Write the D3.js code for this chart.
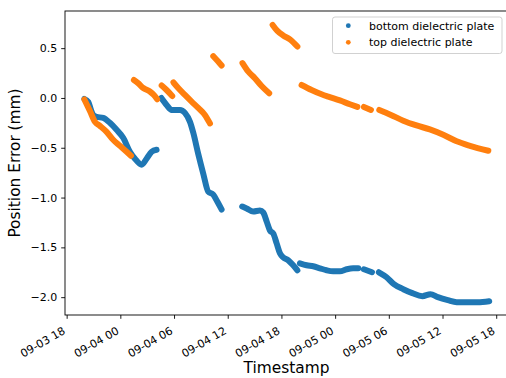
<!DOCTYPE html>
<html>
<head>
<meta charset="utf-8">
<script src="https://cdn.jsdelivr.net/npm/d3@7"></script>
<style>
  body { margin: 0; background: #fff; }
  svg { display: block; font-family: "DejaVu Sans", sans-serif; }
</style>
</head>
<body>
<div id="chart"></div>
<script>
// series, null marks a gap in the recording
var bottomPlate = [
  ["2023-09-03 19:59", -0.01], ["2023-09-03 20:25", -0.04], ["2023-09-03 20:43", -0.12],
  ["2023-09-03 20:58", -0.17], ["2023-09-03 21:21", -0.19], ["2023-09-03 22:05", -0.20],
  ["2023-09-03 22:50", -0.25], ["2023-09-03 23:35", -0.32], ["2023-09-04 00:19", -0.40],
  ["2023-09-04 01:04", -0.54], ["2023-09-04 01:38", -0.61], ["2023-09-04 02:23", -0.67],
  ["2023-09-04 02:56", -0.61], ["2023-09-04 03:30", -0.54], ["2023-09-04 04:03", -0.52],
  ["2023-09-04 04:20", null],
  ["2023-09-04 04:35", 0.00], ["2023-09-04 05:10", -0.07], ["2023-09-04 05:44", -0.12],
  ["2023-09-04 06:40", -0.12], ["2023-09-04 07:13", -0.15], ["2023-09-04 07:47", -0.24],
  ["2023-09-04 08:09", -0.35], ["2023-09-04 08:42", -0.56], ["2023-09-04 09:16", -0.76],
  ["2023-09-04 09:49", -0.94], ["2023-09-04 10:23", -0.97], ["2023-09-04 10:50", -1.04],
  ["2023-09-04 11:19", -1.12],
  ["2023-09-04 12:30", null],
  ["2023-09-04 13:37", -1.09], ["2023-09-04 14:07", -1.11], ["2023-09-04 14:51", -1.14],
  ["2023-09-04 15:36", -1.13], ["2023-09-04 15:58", -1.15], ["2023-09-04 16:21", -1.24],
  ["2023-09-04 16:43", -1.33], ["2023-09-04 17:05", -1.36], ["2023-09-04 17:28", -1.46],
  ["2023-09-04 17:50", -1.56], ["2023-09-04 18:12", -1.60], ["2023-09-04 18:46", -1.63],
  ["2023-09-04 19:19", -1.68], ["2023-09-04 19:47", -1.73],
  ["2023-09-04 19:55", null],
  ["2023-09-04 20:04", -1.66], ["2023-09-04 20:49", -1.68], ["2023-09-04 21:33", -1.69],
  ["2023-09-04 22:18", -1.71], ["2023-09-04 23:03", -1.73], ["2023-09-04 23:47", -1.74],
  ["2023-09-05 00:32", -1.74], ["2023-09-05 01:17", -1.72], ["2023-09-05 02:01", -1.71],
  ["2023-09-05 02:35", -1.71],
  ["2023-09-05 02:55", null],
  ["2023-09-05 03:13", -1.72], ["2023-09-05 04:07", -1.75],
  ["2023-09-05 04:30", null],
  ["2023-09-05 04:53", -1.75], ["2023-09-05 05:45", -1.80], ["2023-09-05 06:34", -1.87],
  ["2023-09-05 07:37", -1.92], ["2023-09-05 08:38", -1.96], ["2023-09-05 09:45", -1.99],
  ["2023-09-05 10:39", -1.97], ["2023-09-05 11:29", -2.00], ["2023-09-05 12:36", -2.03],
  ["2023-09-05 13:35", -2.05], ["2023-09-05 14:50", -2.05], ["2023-09-05 15:57", -2.05],
  ["2023-09-05 17:13", -2.04]
];

var topPlate = [
  ["2023-09-03 19:59", -0.015], ["2023-09-03 20:36", -0.13], ["2023-09-03 21:10", -0.24],
  ["2023-09-03 21:43", -0.28], ["2023-09-03 22:28", -0.34], ["2023-09-03 23:12", -0.42],
  ["2023-09-03 23:57", -0.48], ["2023-09-04 00:42", -0.54], ["2023-09-04 01:11", -0.58],
  ["2023-09-04 01:20", null],
  ["2023-09-04 01:31", 0.18], ["2023-09-04 02:01", 0.146], ["2023-09-04 02:34", 0.10],
  ["2023-09-04 03:18", 0.065], ["2023-09-04 03:45", 0.03], ["2023-09-04 04:07", -0.013],
  ["2023-09-04 04:20", null],
  ["2023-09-04 04:37", 0.125], ["2023-09-04 05:10", 0.08], ["2023-09-04 05:48", 0.02],
  ["2023-09-04 05:52", null],
  ["2023-09-04 05:56", 0.156], ["2023-09-04 06:28", 0.10], ["2023-09-04 07:13", 0.03],
  ["2023-09-04 07:58", -0.037], ["2023-09-04 08:42", -0.10], ["2023-09-04 09:27", -0.17],
  ["2023-09-04 10:01", -0.256],
  ["2023-09-04 10:10", null],
  ["2023-09-04 10:23", 0.42], ["2023-09-04 10:56", 0.366], ["2023-09-04 11:19", 0.326],
  ["2023-09-04 12:30", null],
  ["2023-09-04 13:39", 0.35], ["2023-09-04 14:17", 0.266], ["2023-09-04 15:02", 0.198],
  ["2023-09-04 15:47", 0.12], ["2023-09-04 16:38", 0.047],
  ["2023-09-04 16:50", null],
  ["2023-09-04 17:01", 0.733], ["2023-09-04 17:33", 0.673], ["2023-09-04 18:12", 0.627],
  ["2023-09-04 18:57", 0.589], ["2023-09-04 19:47", 0.517],
  ["2023-09-04 20:00", null],
  ["2023-09-04 20:15", 0.13], ["2023-09-04 21:22", 0.08], ["2023-09-04 22:29", 0.037],
  ["2023-09-04 23:14", 0.013], ["2023-09-05 00:32", -0.025], ["2023-09-05 01:39", -0.063],
  ["2023-09-05 02:29", -0.09],
  ["2023-09-05 02:55", null],
  ["2023-09-05 03:13", -0.09], ["2023-09-05 04:00", -0.12],
  ["2023-09-05 04:30", null],
  ["2023-09-05 04:56", -0.12], ["2023-09-05 06:14", -0.17], ["2023-09-05 07:37", -0.228],
  ["2023-09-05 09:06", -0.276], ["2023-09-05 10:35", -0.316], ["2023-09-05 12:05", -0.37],
  ["2023-09-05 13:35", -0.435], ["2023-09-05 15:04", -0.48], ["2023-09-05 17:07", -0.53]
];

var seriesNames = ["bottom dielectric plate", "top dielectric plate"];
var seriesColors = ["#1f77b4", "#ff7f0e"];
var yTicks = [-2.0, -1.5, -1.0, -0.5, 0.0, 0.5];
var xRange = ["2023-09-03 17:49", "2023-09-05 19:19"];
var yRange = [-2.179, 0.873];

var width = 506, height = 378;
var margin = { top: 11, right: -2, bottom: 63, left: 65 };
var plotW = width - margin.left - margin.right;
var plotH = height - margin.top - margin.bottom;

var parse = d3.timeParse("%Y-%m-%d %H:%M");

var svg = d3.select("#chart").append("svg")
  .attr("width", width)
  .attr("height", height);

var g = svg.append("g")
  .attr("transform", "translate(" + margin.left + "," + margin.top + ")");

var x = d3.scaleTime().domain(xRange.map(parse)).range([0, plotW]);
var y = d3.scaleLinear().domain(yRange).range([plotH, 0]);

var line = d3.line()
  .defined(function (d) { return d[1] !== null; })
  .x(function (d) { return x(parse(d[0])); })
  .y(function (d) { return y(d[1]); })
  .curve(d3.curveMonotoneX);

[bottomPlate, topPlate].forEach(function (s, i) {
  g.append("path")
    .datum(s)
    .attr("fill", "none")
    .attr("stroke", seriesColors[i])
    .attr("stroke-width", 6)
    .attr("stroke-linecap", "round")
    .attr("stroke-linejoin", "round")
    .attr("d", line);
});

// axes
var xAxis = g.append("g")
  .attr("transform", "translate(0," + plotH + ")")
  .call(d3.axisBottom(x)
    .ticks(d3.timeHour.every(6))
    .tickFormat(d3.timeFormat("%m-%d %H"))
    .tickSize(3.8)
    .tickPadding(4));

xAxis.selectAll("text")
  .attr("text-anchor", "end")
  .attr("dy", null)
  .attr("y", null)
  .attr("transform", "translate(-1,18) rotate(-30)");

var yAxis = g.append("g")
  .call(d3.axisLeft(y)
    .tickValues(yTicks)
    .tickFormat(d3.format(".1f"))
    .tickSize(3.8)
    .tickPadding(4));

[xAxis, yAxis].forEach(function (a) {
  a.attr("font-family", "DejaVu Sans").attr("font-size", 11);
  a.select(".domain").remove();
  a.selectAll(".tick line").attr("stroke", "#000").attr("stroke-width", 0.9);
  a.selectAll(".tick text").attr("fill", "#000");
});

// spines
g.append("rect")
  .attr("x", 0).attr("y", 0)
  .attr("width", plotW).attr("height", plotH)
  .attr("fill", "none")
  .attr("stroke", "#000")
  .attr("stroke-width", 0.9);

// axis labels
svg.append("text")
  .attr("x", margin.left + plotW / 2)
  .attr("y", 373)
  .attr("text-anchor", "middle")
  .attr("font-size", 15.4)
  .text("Timestamp");

svg.append("text")
  .attr("transform", "translate(20," + (margin.top + plotH / 2) + ") rotate(-90)")
  .attr("text-anchor", "middle")
  .attr("font-size", 15.4)
  .text("Position Error (mm)");

// legend
var legend = svg.append("g").attr("transform", "translate(332.5,17)");
legend.append("rect")
  .attr("width", 169.5).attr("height", 36.5)
  .attr("rx", 2.5)
  .attr("fill", "#fff")
  .attr("fill-opacity", 0.8)
  .attr("stroke", "#ccc")
  .attr("stroke-width", 0.9);

seriesNames.forEach(function (name, i) {
  var row = legend.append("g").attr("transform", "translate(0," + (8.7 + i * 16.6) + ")");
  row.append("circle")
    .attr("cx", 15.8).attr("cy", 0).attr("r", 2.4)
    .attr("fill", seriesColors[i]);
  row.append("text")
    .attr("x", 36.5).attr("y", 0)
    .attr("dy", "0.35em")
    .attr("font-size", 11)
    .text(name);
});
</script>
</body>
</html>
